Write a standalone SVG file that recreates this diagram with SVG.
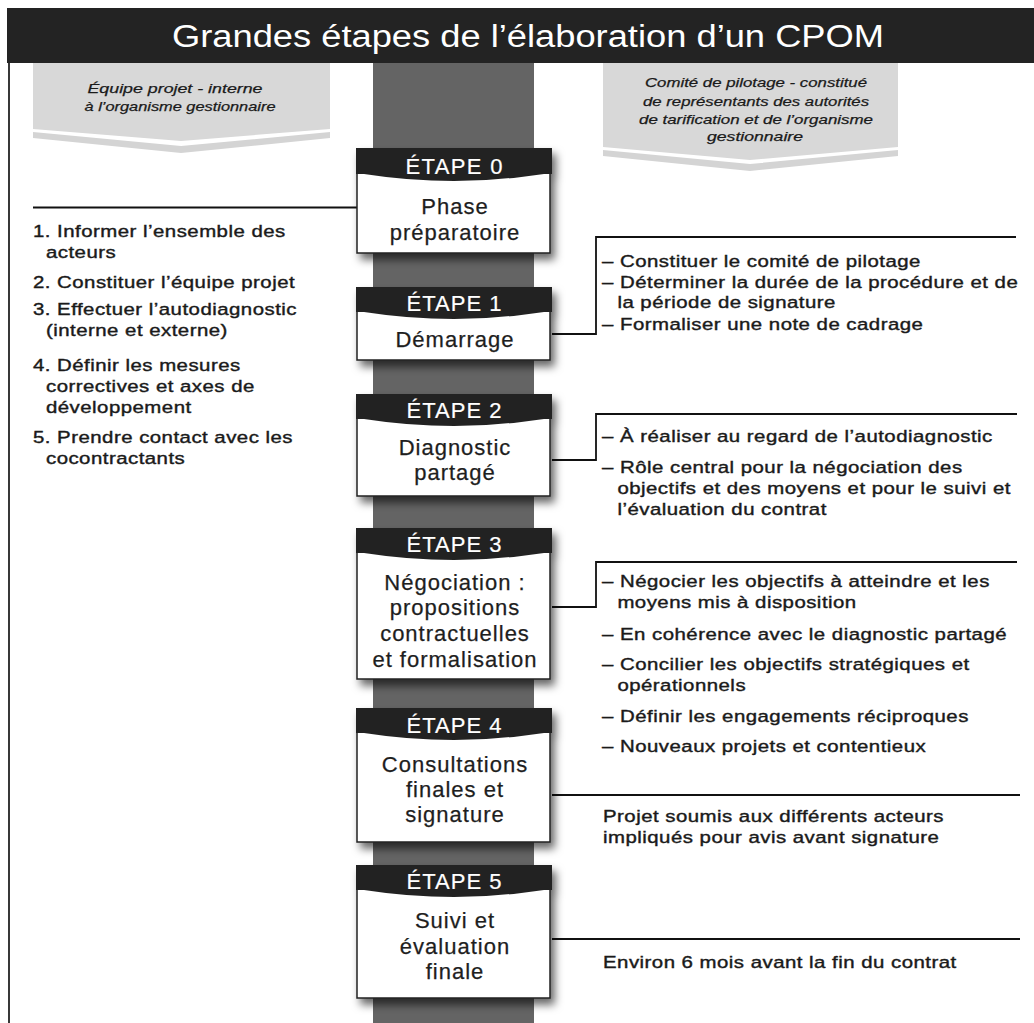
<svg xmlns="http://www.w3.org/2000/svg" width="1034" height="1023" viewBox="0 0 1034 1023">
<defs>
<filter id="sh" x="-15%" y="-15%" width="140%" height="140%">
<feDropShadow dx="4" dy="6" stdDeviation="4" flood-color="#000" flood-opacity="0.6"/>
</filter>
<style>
.hdr{fill:#232323}
.body{fill:#fff;stroke:#222;stroke-width:1.5}
.et{font-family:"Liberation Sans",Arial,sans-serif;font-size:22px;fill:#fff;text-anchor:middle;stroke:#fff;stroke-width:0.2}
.bx{font-family:"Liberation Sans",Arial,sans-serif;font-size:22px;fill:#1e1e1e;text-anchor:middle;letter-spacing:1px;stroke:#1e1e1e;stroke-width:0.25}
.t{font-family:"Liberation Sans",Arial,sans-serif;font-size:17px;fill:#1a1a1a;letter-spacing:0.4px;stroke:#1a1a1a;stroke-width:0.4}
.lab{font-family:"Liberation Sans",Arial,sans-serif;font-size:13px;font-style:italic;fill:#1a1a1a;text-anchor:middle;stroke:#1a1a1a;stroke-width:0.25}
.ln{fill:none;stroke:#111;stroke-width:1.8}
</style>
</defs>
<rect x="0" y="0" width="1034" height="1023" fill="#fff"/>

<g id="title">
<rect x="7" y="8" width="1027" height="55" fill="#232323"/>
<text x="172" y="47" font-family="Liberation Sans, Arial, sans-serif" font-size="31" fill="#fff" textLength="712" lengthAdjust="spacingAndGlyphs">Grandes étapes de l’élaboration d’un CPOM</text>
</g>

<g id="frame">
<line x1="9" y1="63" x2="9" y2="1023" stroke="#222" stroke-width="1.8"/>
<rect x="373" y="63" width="161" height="960" fill="#646464"/>
</g>

<g id="label-left">
<polygon points="33,63 330,63 330,129 181,141 33,129" fill="#d8d8d8"/>
<polygon points="33,132 181,146 330,132 330,138 181,153 33,138" fill="#d4d4d4"/>
<text class="lab" x="175" y="93" textLength="175" lengthAdjust="spacingAndGlyphs">Équipe projet - interne</text>
<text class="lab" x="180" y="111" textLength="191" lengthAdjust="spacingAndGlyphs">à l’organisme gestionnaire</text>
</g>

<g id="label-right">
<polygon points="603,63 898,63 898,147 750,160 603,147" fill="#d8d8d8"/>
<polygon points="603,150 750,164 898,150 898,156 750,171 603,156" fill="#d4d4d4"/>
<text class="lab" x="756" y="87" textLength="222" lengthAdjust="spacingAndGlyphs">Comité de pilotage - constitué</text>
<text class="lab" x="756" y="106" textLength="226" lengthAdjust="spacingAndGlyphs">de représentants des autorités</text>
<text class="lab" x="756" y="124" textLength="234" lengthAdjust="spacingAndGlyphs">de tarification et de l’organisme</text>
<text class="lab" x="755" y="141" textLength="96" lengthAdjust="spacingAndGlyphs">gestionnaire</text>
</g>

<g id="connectors">
<path class="ln" d="M33,207.5 H357"/>
<path class="ln" d="M552,334 H596 V237 H1016"/>
<path class="ln" d="M552,460 H596 V414 H1017"/>
<path class="ln" d="M552,607 H596 V562 H1017"/>
<path class="ln" d="M552,795 H1020"/>
<path class="ln" d="M552,939 H1020"/>
</g>

<g id="step0">
<g filter="url(#sh)">
<rect class="body" x="357" y="166" width="193" height="87"/>
<path class="hdr" d="M356,148 H552 V174 H544 Q454,188 364,174 H356 Z"/>
</g>
<text class="et" x="454" y="174" textLength="97">ÉTAPE 0</text>
<text class="bx" x="455" y="214">Phase</text>
<text class="bx" x="455" y="240">préparatoire</text>
</g>

<g id="step1">
<g filter="url(#sh)">
<rect class="body" x="357" y="305" width="193" height="55"/>
<path class="hdr" d="M356,287 H552 V312 H544 Q454,326 364,312 H356 Z"/>
</g>
<text class="et" x="454" y="311" textLength="95">ÉTAPE 1</text>
<text class="bx" x="455" y="347">Démarrage</text>
</g>

<g id="step2">
<g filter="url(#sh)">
<rect class="body" x="357" y="412" width="193" height="84"/>
<path class="hdr" d="M356,394 H552 V419 H544 Q454,433 364,419 H356 Z"/>
</g>
<text class="et" x="454" y="418" textLength="95">ÉTAPE 2</text>
<text class="bx" x="455" y="455">Diagnostic</text>
<text class="bx" x="455" y="480">partagé</text>
</g>

<g id="step3">
<g filter="url(#sh)">
<rect class="body" x="357" y="546" width="193" height="133"/>
<path class="hdr" d="M356,528 H552 V553 H544 Q454,567 364,553 H356 Z"/>
</g>
<text class="et" x="454" y="552" textLength="95">ÉTAPE 3</text>
<text class="bx" x="455" y="590">Négociation :</text>
<text class="bx" x="455" y="615">propositions</text>
<text class="bx" x="455" y="641">contractuelles</text>
<text class="bx" x="455" y="667">et formalisation</text>
</g>

<g id="step4">
<g filter="url(#sh)">
<rect class="body" x="357" y="726" width="193" height="116"/>
<path class="hdr" d="M356,708 H552 V733 H544 Q454,747 364,733 H356 Z"/>
</g>
<text class="et" x="454" y="733" textLength="95">ÉTAPE 4</text>
<text class="bx" x="455" y="772">Consultations</text>
<text class="bx" x="455" y="797">finales et</text>
<text class="bx" x="455" y="822">signature</text>
</g>

<g id="step5">
<g filter="url(#sh)">
<rect class="body" x="357" y="883" width="193" height="115"/>
<path class="hdr" d="M356,865 H552 V890 H544 Q454,904 364,890 H356 Z"/>
</g>
<text class="et" x="454" y="889" textLength="95">ÉTAPE 5</text>
<text class="bx" x="455" y="928">Suivi et</text>
<text class="bx" x="455" y="954">évaluation</text>
<text class="bx" x="455" y="979">finale</text>
</g>

<g id="left-list" transform="scale(1.2,1)">
<text class="t" x="27.5" y="237">1. Informer l’ensemble des</text>
<text class="t" x="38.3" y="258">acteurs</text>
<text class="t" x="27.5" y="288">2. Constituer l’équipe projet</text>
<text class="t" x="27.5" y="315">3. Effectuer l’autodiagnostic</text>
<text class="t" x="38.3" y="336">(interne et externe)</text>
<text class="t" x="27.5" y="371">4. Définir les mesures</text>
<text class="t" x="38.3" y="392">correctives et axes de</text>
<text class="t" x="38.3" y="413">développement</text>
<text class="t" x="27.5" y="443">5. Prendre contact avec les</text>
<text class="t" x="38.3" y="464">cocontractants</text>
</g>

<g id="notes-step1" transform="scale(1.2,1)">
<text class="t" x="501.7" y="267">– Constituer le comité de pilotage</text>
<text class="t" x="501.7" y="288">– Déterminer la durée de la procédure et de</text>
<text class="t" x="514.5" y="308">la période de signature</text>
<text class="t" x="501.7" y="330">– Formaliser une note de cadrage</text>
</g>

<g id="notes-step2" transform="scale(1.2,1)">
<text class="t" x="501.7" y="442">– À réaliser au regard de l’autodiagnostic</text>
<text class="t" x="501.7" y="473">– Rôle central pour la négociation des</text>
<text class="t" x="514.5" y="494">objectifs et des moyens et pour le suivi et</text>
<text class="t" x="514.5" y="515">l’évaluation du contrat</text>
</g>

<g id="notes-step3" transform="scale(1.2,1)">
<text class="t" x="501.7" y="587">– Négocier les objectifs à atteindre et les</text>
<text class="t" x="514.5" y="608">moyens mis à disposition</text>
<text class="t" x="501.7" y="640">– En cohérence avec le diagnostic partagé</text>
<text class="t" x="501.7" y="670">– Concilier les objectifs stratégiques et</text>
<text class="t" x="514.5" y="691">opérationnels</text>
<text class="t" x="501.7" y="722">– Définir les engagements réciproques</text>
<text class="t" x="501.7" y="752">– Nouveaux projets et contentieux</text>
</g>

<g id="notes-step4" transform="scale(1.2,1)">
<text class="t" x="502.5" y="822">Projet soumis aux différents acteurs</text>
<text class="t" x="502.5" y="843">impliqués pour avis avant signature</text>
</g>

<g id="notes-step5" transform="scale(1.2,1)">
<text class="t" x="502.5" y="968">Environ 6 mois avant la fin du contrat</text>
</g>
</svg>
